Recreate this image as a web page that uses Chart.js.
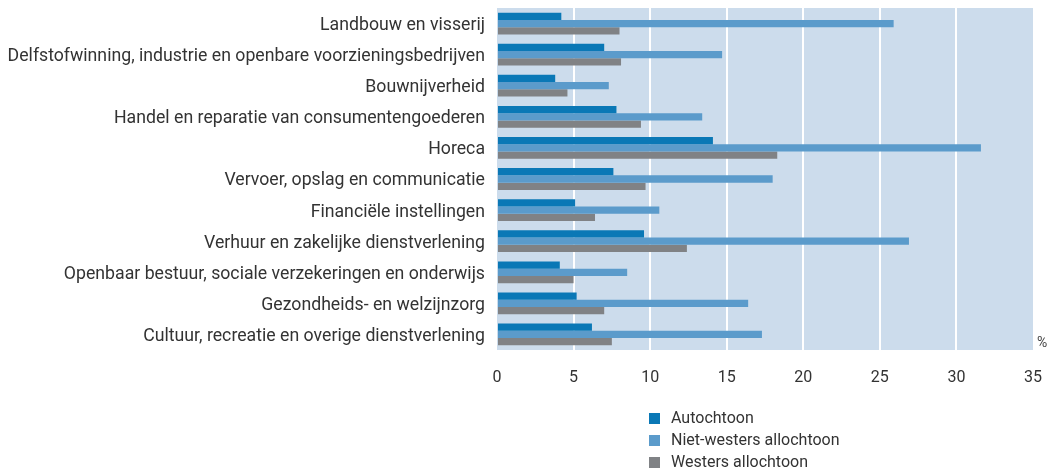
<!DOCTYPE html>
<html>
<head>
<meta charset="utf-8">
<script src="https://cdn.jsdelivr.net/npm/chart.js@4/dist/chart.umd.min.js"></script>
<style>
  html, body { margin: 0; padding: 0; background: #fff; }
  #wrap { position: relative; width: 1060px; height: 471px; }
  #legend {
    position: absolute; left: 649px; top: 407px;
    font-family: Roboto, "Liberation Sans", sans-serif; font-size: 16px; color: #333;
  }
  #legend div { height: 22px; line-height: 22px; display: flex; align-items: center; }
  #legend span.box { display: inline-block; width: 11px; height: 11px; margin-right: 11px; }
</style>
</head>
<body>
<div id="wrap">
  <canvas id="c" width="1060" height="471"></canvas>
  <div id="legend"></div>
</div>
<script>
// Sectors (top to bottom)
const categories = [
  "Landbouw en visserij",
  "Delfstofwinning, industrie en openbare voorzieningsbedrijven",
  "Bouwnijverheid",
  "Handel en reparatie van consumentengoederen",
  "Horeca",
  "Vervoer, opslag en communicatie",
  "Financiële instellingen",
  "Verhuur en zakelijke dienstverlening",
  "Openbaar bestuur, sociale verzekeringen en onderwijs",
  "Gezondheids- en welzijnzorg",
  "Cultuur, recreatie en overige dienstverlening"
];

// Percentages per group
const autochtoon      = [4.2, 7.0, 3.8, 7.8, 14.1, 7.6, 5.1, 9.6, 4.1, 5.2, 6.2];
const nietWesters     = [25.9, 14.7, 7.3, 13.4, 31.6, 18.0, 10.6, 26.9, 8.5, 16.4, 17.3];
const westers         = [8.0, 8.1, 4.6, 9.4, 18.3, 9.7, 6.4, 12.4, 5.0, 7.0, 7.5];

const seriesNames = ["Autochtoon", "Niet-westers allochtoon", "Westers allochtoon"];
const seriesColors = ["#0a78b6", "#5b9bcb", "#808285"];

const xTicks = [0, 5, 10, 15, 20, 25, 30, 35];

const FONT = 'Roboto, "Liberation Sans", sans-serif';

// Plot background and unit label
const plotBackground = {
  id: 'plotBackground',
  beforeDraw(chart) {
    const { ctx, chartArea: a } = chart;
    ctx.save();
    ctx.fillStyle = '#ccdcec';
    ctx.fillRect(a.left, a.top, a.right - a.left, a.bottom - a.top);
    ctx.restore();
  },
  afterDraw(chart) {
    const { ctx, chartArea: a } = chart;
    ctx.save();
    ctx.fillStyle = '#444';
    ctx.font = '14px ' + FONT;
    ctx.textAlign = 'left';
    ctx.textBaseline = 'middle';
    ctx.fillText('%', a.right + 4, a.bottom - 7);
    ctx.restore();
  }
};

const noScalePadding = s => { s.paddingTop = 0; s.paddingBottom = 0; };

const chart = new Chart(document.getElementById('c'), {
  type: 'bar',
  data: {
    labels: categories,
    datasets: [
      { label: seriesNames[0], data: autochtoon, backgroundColor: seriesColors[0] },
      { label: seriesNames[1], data: nietWesters, backgroundColor: seriesColors[1] },
      { label: seriesNames[2], data: westers, backgroundColor: seriesColors[2] }
    ]
  },
  options: {
    indexAxis: 'y',
    responsive: false,
    animation: false,
    layout: { padding: { top: 8, right: 27, bottom: 81, left: 0 } },
    datasets: { bar: { categoryPercentage: 0.7, barPercentage: 1.0, borderWidth: 0 } },
    plugins: { legend: { display: false }, tooltip: { enabled: false } },
    scales: {
      x: {
        min: 0, max: 35,
        afterBuildTicks(scale) { scale.ticks = xTicks.map(v => ({ value: v })); },
        afterFit(scale) { scale.height = 40; },
        border: { display: false },
        grid: {
          drawTicks: false,
          lineWidth: 2,
          color: c => (c.tick && (c.tick.value === 0 || c.tick.value === 35)) ? 'rgba(0,0,0,0)' : '#ffffff'
        },
        ticks: { padding: 18, color: '#333', font: { family: FONT, size: 16 } }
      },
      y: {
        afterFit(scale) { scale.width = 497; noScalePadding(scale); },
        border: { display: false },
        grid: { display: false, drawTicks: false },
        ticks: { padding: 12, labelOffset: 2, color: '#333', font: { family: FONT, size: 17.7 } }
      }
    }
  },
  plugins: [plotBackground]
});

// Legend as a vertical list
const legend = document.getElementById('legend');
seriesNames.forEach((name, i) => {
  const row = document.createElement('div');
  const box = document.createElement('span');
  box.className = 'box';
  box.style.background = seriesColors[i];
  row.appendChild(box);
  row.appendChild(document.createTextNode(name));
  legend.appendChild(row);
});
</script>
</body>
</html>
